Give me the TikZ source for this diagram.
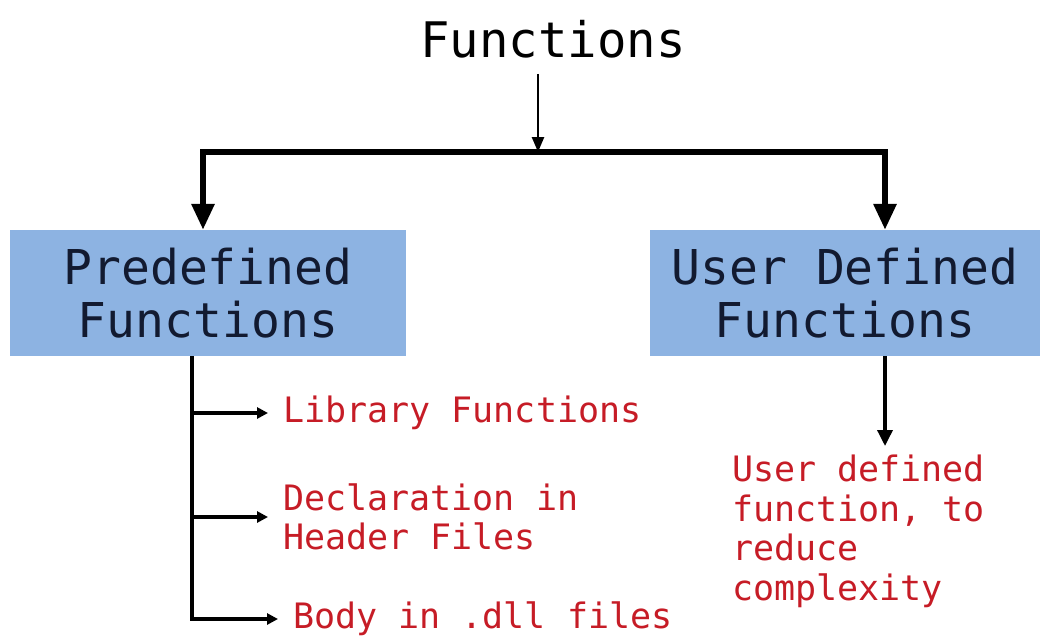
\documentclass[tikz,border=0pt]{standalone}
\usepackage{fontspec}
\setmonofont{DejaVu Sans Mono}
\usetikzlibrary{arrows.meta}
\definecolor{boxblue}{RGB}{141,179,226}
\definecolor{boxtext}{RGB}{18,26,48}
\definecolor{notered}{RGB}{198,28,38}
\begin{document}
\begin{tikzpicture}[x=1pt,y=-1pt,
  bigfont/.style={font={\fontsize{48}{53}\selectfont\ttfamily}},
  notefont/.style={font={\fontsize{35}{39.5}\selectfont\ttfamily}},
  catbox/.style={bigfont, fill=boxblue, text=boxtext, align=center,
    inner sep=0pt, minimum height=126pt},
  note/.style={notefont, text=notered, align=left, inner sep=0pt, anchor=west},
  thinarrow/.style={line width=2.5pt, -{Triangle[length=15pt,width=12pt]}},
  bar/.style={line width=6pt, line join=miter,
    {Triangle[length=26pt,width=22pt]}-{Triangle[length=26pt,width=22pt]}},
  branch/.style={line width=4pt, line join=miter,
    -{Triangle[length=11pt,width=11pt]}, shorten >=15pt},
  downarrow/.style={line width=3.5pt, -{Triangle[length=16pt,width=15pt]}, shorten >=9pt}]
\useasboundingbox (0,0) rectangle (1040,642);

% top heading
\node[bigfont, font={\fontsize{49}{53}\selectfont\ttfamily}, inner xsep=0pt,
  inner ysep=16pt, anchor=base] (title) at (553,57) {Functions};

% the two kinds of functions
\node[catbox, minimum width=396pt] (pre) at (208,293) {Predefined\\Functions};
\node[catbox, minimum width=390pt] (ud) at (845,293) {User Defined\\Functions};

% split points on the bar
\coordinate (jl) at (203,152);
\coordinate (jm) at (538,152);
\coordinate (jr) at (885,152);
\coordinate (sp) at (192,0);

\draw[thinarrow] (title.south -| jm) -- (jm);
\draw[bar] (pre.north -| jl) -- (jl) -- (jr) -- (ud.north -| jr);

% predefined functions: notes
\node[note] (lib) at (283,413) {Library Functions};
\node[note] (decl) at (283,517) {Declaration in\\Header Files};
\node[note] (body) at (293,619) {Body in .dll files};

\draw[branch] (pre.south -| sp) |- (body.west);
\draw[branch] (sp |- lib.west) -- (lib.west);
\draw[branch] (sp |- decl.west) -- (decl.west);

% user defined functions: note
\node[note, anchor=north west] (udf) at (732,455)
  {User defined\\function, to\\reduce\\complexity};
\draw[downarrow] (ud.south -| jr) -- (udf.north -| jr);
\end{tikzpicture}
\end{document}
